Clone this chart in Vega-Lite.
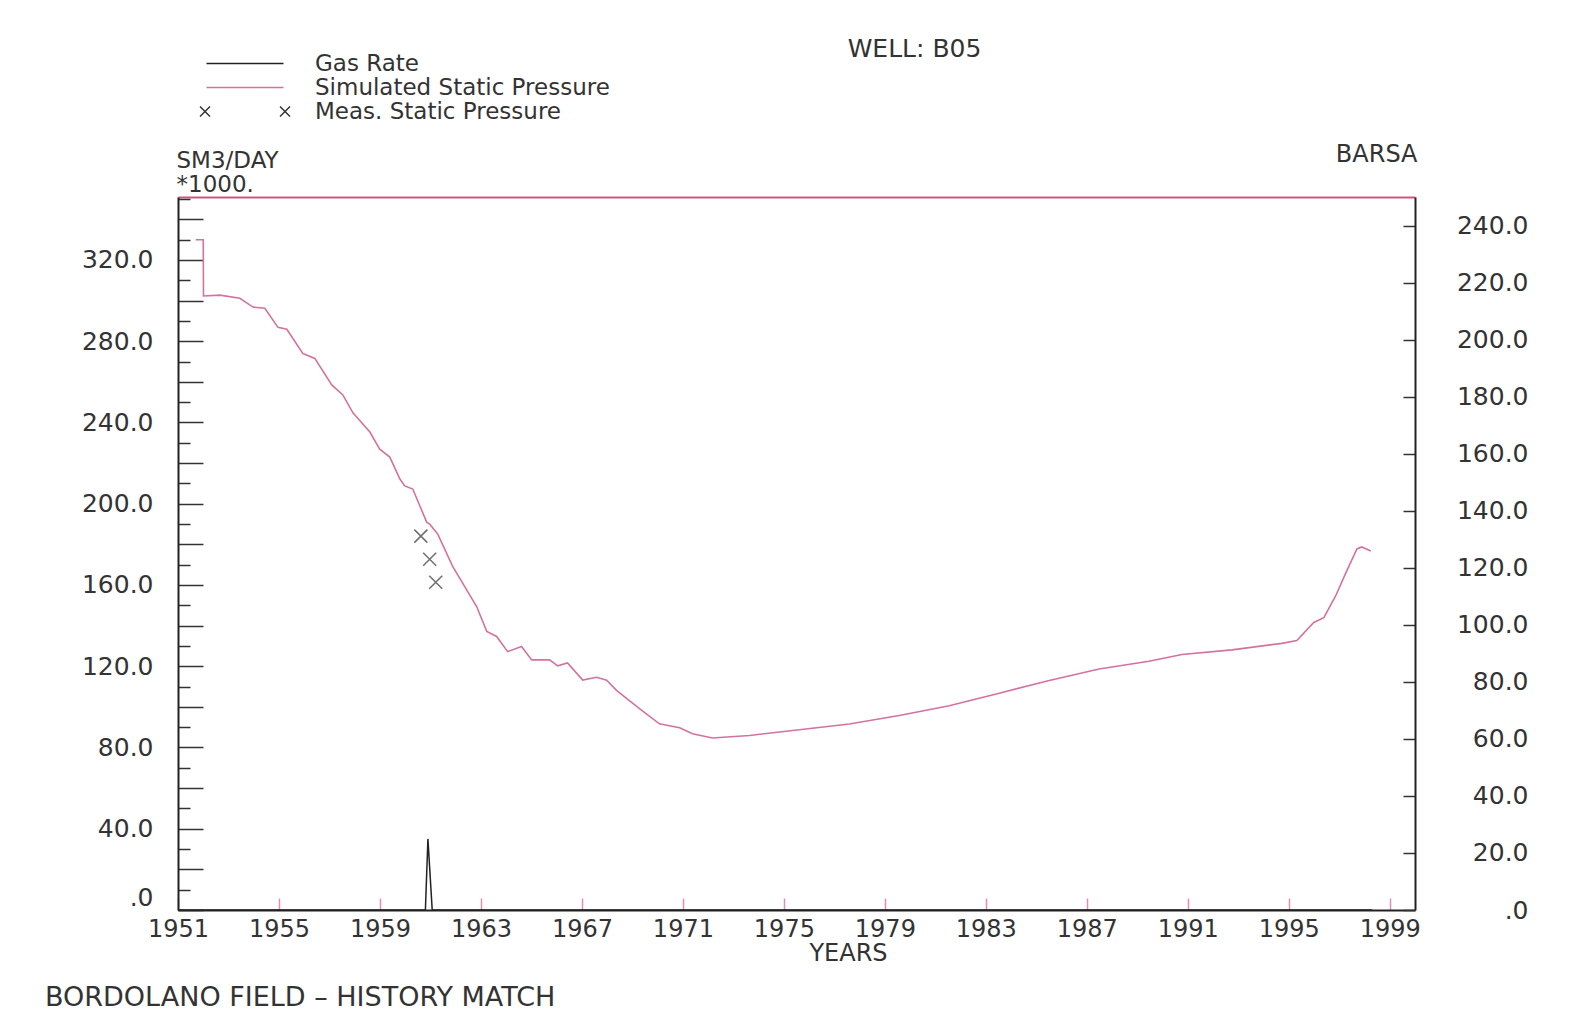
{
  "$schema": "https://vega.github.io/schema/vega-lite/v6.json",
  "autosize": {"type": "none"},
  "width": 1237,
  "height": 713,
  "padding": {"left": 178, "top": 197, "right": 156, "bottom": 105},
  "background": "white",
  "config": {
    "view": {"stroke": null},
    "font": "DejaVu Sans",
    "axis": {
      "labelFont": "DejaVu Sans", "titleFont": "DejaVu Sans",
      "labelColor": "#333333", "titleColor": "#333333",
      "labelFontSize": 24, "titleFontSize": 24, "titleFontWeight": "normal",
      "grid": false, "domainColor": "#222222", "domainWidth": 2,
      "tickColor": "#333333", "tickWidth": 1.5,
      "labelOverlap": false, "labelFlush": false
    }
  },
  "title": {
    "text": "BORDOLANO FIELD  –  HISTORY MATCH",
    "orient": "bottom", "anchor": "start", "frame": "group",
    "dx": -133, "offset": 20, "fontSize": 27, "font": "DejaVu Sans",
    "fontWeight": "normal", "color": "#333333", "baseline": "top"
  },
  "datasets": {
    "gas": [
      {"year": 1951.0, "rate": 0},
      {"year": 1960.8, "rate": 0},
      {"year": 1960.9, "rate": 35},
      {"year": 1961.07, "rate": 0},
      {"year": 1998.3, "rate": 0}
    ],
    "pressure": [
      {"year": 1951.7, "p": 235.0},
      {"year": 1952.0, "p": 235.0},
      {"year": 1952.01, "p": 215.3},
      {"year": 1952.66, "p": 215.6},
      {"year": 1953.45, "p": 214.5},
      {"year": 1953.97, "p": 211.4},
      {"year": 1954.44, "p": 211.0},
      {"year": 1954.96, "p": 204.3},
      {"year": 1955.31, "p": 203.6},
      {"year": 1955.95, "p": 195.1},
      {"year": 1956.42, "p": 193.4},
      {"year": 1957.09, "p": 184.1},
      {"year": 1957.53, "p": 180.6},
      {"year": 1957.93, "p": 174.3},
      {"year": 1958.60, "p": 167.6},
      {"year": 1958.99, "p": 161.6},
      {"year": 1959.39, "p": 158.8},
      {"year": 1959.79, "p": 151.1},
      {"year": 1959.98, "p": 148.7},
      {"year": 1960.30, "p": 147.6},
      {"year": 1960.85, "p": 136.0},
      {"year": 1960.97, "p": 135.3},
      {"year": 1961.29, "p": 131.8},
      {"year": 1961.88, "p": 120.5},
      {"year": 1962.83, "p": 106.4},
      {"year": 1963.23, "p": 97.7},
      {"year": 1963.62, "p": 95.9},
      {"year": 1964.06, "p": 90.6},
      {"year": 1964.61, "p": 92.4},
      {"year": 1965.01, "p": 87.7},
      {"year": 1965.72, "p": 87.7},
      {"year": 1966.04, "p": 85.6},
      {"year": 1966.43, "p": 86.6},
      {"year": 1967.03, "p": 80.6},
      {"year": 1967.58, "p": 81.6},
      {"year": 1967.98, "p": 80.6},
      {"year": 1968.37, "p": 77.0},
      {"year": 1969.28, "p": 70.6},
      {"year": 1970.07, "p": 65.3},
      {"year": 1970.87, "p": 63.9},
      {"year": 1971.38, "p": 61.8},
      {"year": 1972.17, "p": 60.3},
      {"year": 1973.64, "p": 61.2},
      {"year": 1975.61, "p": 63.2},
      {"year": 1977.59, "p": 65.2},
      {"year": 1979.57, "p": 68.2},
      {"year": 1981.55, "p": 71.6},
      {"year": 1983.53, "p": 76.0},
      {"year": 1985.51, "p": 80.5},
      {"year": 1987.49, "p": 84.5},
      {"year": 1989.46, "p": 87.2},
      {"year": 1990.77, "p": 89.6},
      {"year": 1992.75, "p": 91.2},
      {"year": 1994.73, "p": 93.5},
      {"year": 1995.32, "p": 94.5},
      {"year": 1995.99, "p": 100.8},
      {"year": 1996.39, "p": 102.5},
      {"year": 1996.86, "p": 110.2},
      {"year": 1997.26, "p": 118.2},
      {"year": 1997.70, "p": 126.6},
      {"year": 1997.89, "p": 127.3},
      {"year": 1998.25, "p": 125.9}
    ],
    "meas": [
      {"year": 1960.62, "p": 131.1},
      {"year": 1960.97, "p": 123.0},
      {"year": 1961.21, "p": 114.9}
    ]
  },
  "layer": [
    {
      "data": {"name": "gas"},
      "mark": {"type": "line", "strokeWidth": 1.5},
      "encoding": {
        "x": {
          "field": "year", "type": "quantitative",
          "scale": {"domain": [1951, 2000], "nice": false, "zero": false},
          "axis": {
            "orient": "bottom",
            "values": [1951, 1955, 1959, 1963, 1967, 1971, 1975, 1979, 1983, 1987, 1991, 1995, 1999],
            "format": "d", "tickSize": -12, "tickColor": "#e08fb0", "tickWidth": 1.5,
            "labelPadding": 19, "labelFontSize": 24,
            "title": "YEARS", "titleX": 670, "titleY": 50, "titleAlign": "center",
            "titleBaseline": "alphabetic", "titleAngle": 0
          }
        },
        "y": {
          "field": "rate", "type": "quantitative",
          "scale": {"domain": [0, 351], "nice": false, "zero": true},
          "axis": {
            "orient": "left",
            "values": [0, 10, 20, 30, 40, 50, 60, 70, 80, 90, 100, 110, 120, 130, 140, 150, 160, 170, 180, 190, 200, 210, 220, 230, 240, 250, 260, 270, 280, 290, 300, 310, 320, 330, 340, 350],
            "tickSize": {"condition": {"test": "datum.value % 20 === 0", "value": -25}, "value": -12},
            "labelExpr": "datum.value % 40 === 0 ? (datum.value === 0 ? '.0' : format(datum.value, '.1f')) : ''",
            "labelBaseline": {"condition": {"test": "datum.value === 0", "value": "bottom"}, "value": "middle"},
            "labelPadding": 50, "labelFontSize": 25,
            "title": ["SM3/DAY", "*1000."], "titleAngle": 0, "titleAlign": "left",
            "titleBaseline": "alphabetic", "titleX": -2, "titleY": -30, "titleLineHeight": 24,
            "titleFontSize": 23
          }
        },
        "color": {
          "datum": "Gas Rate", "type": "nominal",
          "scale": {
            "domain": ["Gas Rate", "Simulated Static Pressure", "Meas. Static Pressure"],
            "range": ["#222222", "#d4729f", "#333333"]
          },
          "legend": {
            "orient": "none", "legendX": 55.5, "legendY": -145, "title": null,
            "direction": "vertical", "symbolSize": 400, "symbolStrokeWidth": 1.5,
            "labelFontSize": 23, "labelFont": "DejaVu Sans", "labelColor": "#333333",
            "labelLimit": 1000, "labelOffset": 58.5, "rowPadding": 0, "padding": 0,
            "encode": {
              "symbols": {
                "update": {
                  "shape": [
                    {"test": "datum.value === 'Meas. Static Pressure'", "value": "M-4.5,-0.5L-3.5,0.5M-4.5,0.5L-3.5,-0.5M3.5,-0.5L4.5,0.5M3.5,0.5L4.5,-0.5"},
                    {"value": "M-3.85,0L3.85,0"}
                  ],
                  "fill": {"value": "transparent"},
                  "strokeWidth": {"value": 1.5}
                }
              }
            }
          }
        }
      }
    },
    {
      "layer": [
        {
          "data": {"name": "pressure"},
          "mark": {"type": "line", "strokeWidth": 1.6},
          "encoding": {
            "x": {
              "field": "year", "type": "quantitative",
              "scale": {"domain": [1951, 2000], "nice": false, "zero": false},
              "axis": {
                "orient": "top", "ticks": false, "labels": false,
                "domainColor": "#cc5585", "domainWidth": 2,
                "title": "WELL: B05", "titleX": 736, "titleY": -141, "titleAlign": "center",
                "titleBaseline": "alphabetic", "titleAngle": 0, "titleFontSize": 25
              }
            },
            "y": {
              "field": "p", "type": "quantitative",
              "scale": {"domain": [0, 250], "nice": false, "zero": true},
              "axis": {
                "orient": "right",
                "values": [0, 5, 10, 15, 20, 25, 30, 35, 40, 45, 50, 55, 60, 65, 70, 75, 80, 85, 90, 95, 100, 105, 110, 115, 120, 125, 130, 135, 140, 145, 150, 155, 160, 165, 170, 175, 180, 185, 190, 195, 200, 205, 210, 215, 220, 225, 230, 235, 240, 245],
                "tickSize": -12,
                "labelExpr": "datum.value % 20 === 0 ? (datum.value === 0 ? '.0' : format(datum.value, '.1f')) : ''",
                "labelAlign": "right", "labelPadding": 125, "labelFontSize": 25,
                "title": "BARSA", "titleAngle": 0, "titleAlign": "right",
                "titleBaseline": "alphabetic", "titleX": 2, "titleY": -36
              }
            },
            "color": {"datum": "Simulated Static Pressure", "type": "nominal"}
          }
        },
        {
          "data": {"name": "meas"},
          "mark": {"type": "point", "filled": false, "shape": "M-1,-1L1,1M-1,1L1,-1", "size": 169, "strokeWidth": 1.5},
          "encoding": {
            "x": {"field": "year", "type": "quantitative"},
            "y": {"field": "p", "type": "quantitative"},
            "color": {"datum": "Meas. Static Pressure", "type": "nominal"}
          }
        }
      ]
    }
  ],
  "resolve": {"scale": {"y": "independent"}, "axis": {"x": "independent"}}
}
